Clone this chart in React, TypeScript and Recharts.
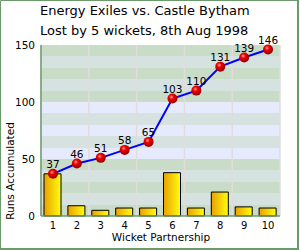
import { ComposedChart, Bar, Line, XAxis, YAxis, CartesianGrid, LabelList } from 'recharts'

const wickets = [1, 2, 3, 4, 5, 6, 7, 8, 9, 10]
const partnership = [37, 9, 5, 7, 7, 38, 7, 21, 8, 7]
const accumulated = [37, 46, 51, 58, 65, 103, 110, 131, 139, 146]
const yTicks = [0, 10, 20, 30, 40, 50, 60, 70, 80, 90, 100, 110, 120, 130, 140, 150]
const cellEdges = [0.5, 1.5, 2.5, 3.5, 4.5, 5.5, 6.5, 7.5, 8.5, 9.5, 10.5]

const FONT = '"DejaVu Sans", Verdana, sans-serif'
const GREEN = '#c8dcc8'
const GREY = '#d6e2e0'
const BLUE = '#e5ebfc'
const FRAME = '#6b9a6b'

const data = wickets.map((w, i) => ({
  wicket: w,
  part: partnership[i],
  runs: accumulated[i],
}))

// stripes run top to bottom, coloured in blocks of 50 runs
const stripes = yTicks.slice(1).map((_, i) => {
  if ((i % 5) % 2 === 1) return GREY
  return Math.floor(i / 5) === 1 ? BLUE : GREEN
})

function Ball(props: any) {
  const { cx, cy, index } = props
  if (cx == null || cy == null) return null
  return <circle key={index} cx={cx} cy={cy} r={5} fill="url(#ball)" />
}

export default function App() {
  return (
    <div style={{ position: 'fixed', left: 0, top: 0, width: 300, height: 250, background: '#fff' }}>
      <svg width={0} height={0} style={{ position: 'absolute' }}>
        <defs>
          <linearGradient id="barGrad" x1="0" y1="0" x2="1" y2="0">
            <stop offset="0%" stopColor="#e9a000" />
            <stop offset="100%" stopColor="#ffff10" />
          </linearGradient>
          <radialGradient id="ball" cx="40%" cy="35%" r="65%">
            <stop offset="0%" stopColor="#ffa0a0" />
            <stop offset="35%" stopColor="#f00000" />
            <stop offset="100%" stopColor="#900000" />
          </radialGradient>
        </defs>
      </svg>
      <ComposedChart
        width={300}
        height={250}
        data={data}
        margin={{ top: 45, right: 20, bottom: 4, left: 0 }}
      >
        <CartesianGrid
          xAxisId="cells"
          stroke="none"
          vertical={false}
          horizontalFill={stripes}
          fillOpacity={1}
        />
        <CartesianGrid xAxisId="cells" horizontal={false} stroke="#e2dcdc" strokeWidth={1.5} />
        <XAxis
          xAxisId="cells"
          dataKey="wicket"
          type="number"
          domain={[0.5, 10.5]}
          ticks={cellEdges}
          hide
        />
        <XAxis
          dataKey="wicket"
          type="number"
          domain={[0.5, 10.5]}
          ticks={wickets}
          interval={0}
          height={30}
          tickLine={false}
          tickSize={4}
          tickMargin={1.5}
          axisLine={{ stroke: FRAME, strokeWidth: 1.5 }}
          tick={{ fill: '#000', fontSize: 10, fontFamily: FONT }}
        />
        <YAxis
          domain={[0, 150]}
          ticks={yTicks}
          interval={0}
          width={41}
          tickLine={false}
          tickSize={5}
          tickMargin={1}
          tickFormatter={(v: number) => (v % 50 === 0 ? String(v) : '')}
          axisLine={{ stroke: FRAME, strokeWidth: 1.5 }}
          tick={{ fill: '#000', fontSize: 10.5, fontFamily: FONT }}
        />
        <Bar
          dataKey="part"
          barSize={17}
          fill="url(#barGrad)"
          stroke="#000"
          strokeWidth={1}
          isAnimationActive={false}
        />
        <Line
          type="linear"
          dataKey="runs"
          stroke="#0000ff"
          strokeWidth={2}
          dot={Ball}
          activeDot={false}
          isAnimationActive={false}
        >
          <LabelList
            dataKey="runs"
            position="top"
            offset={6}
            fill="#000"
            fontSize={10.5}
            fontFamily={FONT}
          />
        </Line>
      </ComposedChart>
      <svg
        width={300}
        height={250}
        style={{ position: 'absolute', left: 0, top: 0, pointerEvents: 'none' }}
      >
        <text x={40} y={15} fontSize={13} fontFamily={FONT} fill="#000">
          Energy Exiles vs. Castle Bytham
        </text>
        <text x={40} y={34.5} fontSize={13} fontFamily={FONT} fill="#000">
          Lost by 5 wickets, 8th Aug 1998
        </text>
        <text x={161} y={240.5} fontSize={10.5} fontFamily={FONT} fill="#000" textAnchor="middle">
          Wicket Partnership
        </text>
        <text
          x={14}
          y={171}
          fontSize={10.5}
          fontFamily={FONT}
          fill="#000"
          textAnchor="middle"
          transform="rotate(-90 14 171)"
        >
          Runs Accumulated
        </text>
        <path d="M0.5 250 V0.5 H298 V249 H0" fill="none" stroke={FRAME} strokeWidth={1} />
        <path d="M298 0 V249 H0" fill="none" stroke={FRAME} strokeWidth={2} />
      </svg>
    </div>
  )
}
